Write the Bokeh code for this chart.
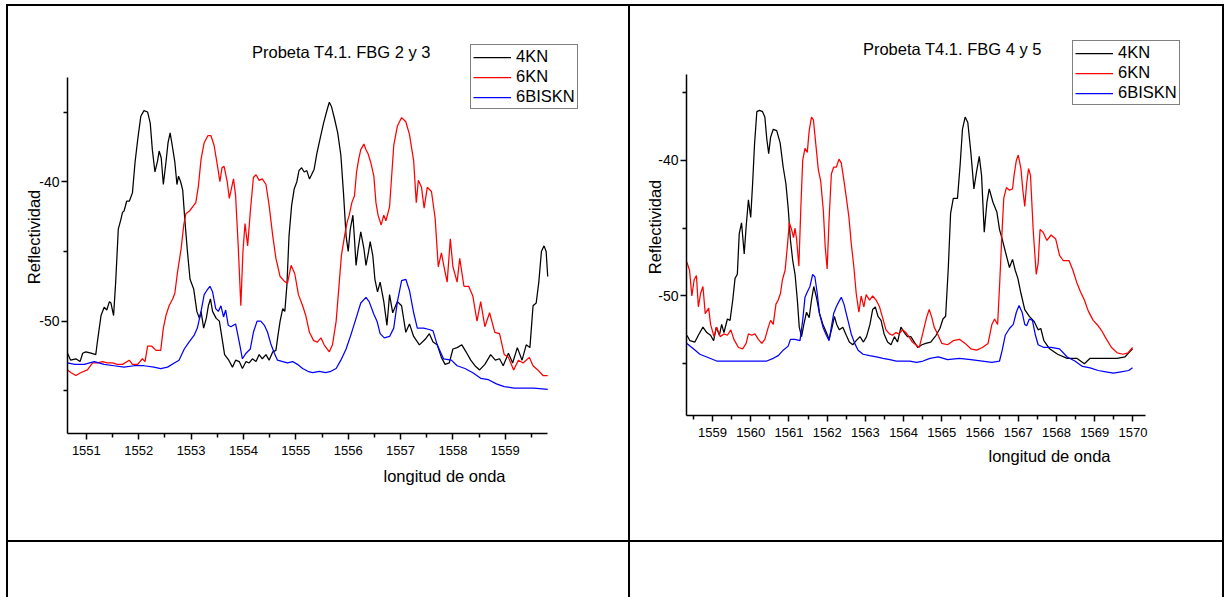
from bokeh.plotting import figure
from bokeh.models import (Range1d, FixedTicker, Legend, LegendItem, Title, Div, Label,
                          PrintfTickFormatter)
from bokeh.layouts import row, column
from bokeh.embed import file_html
from bokeh.resources import INLINE

FONT = "Liberation Sans"

# ---------------- data: chart 1 (FBG 2 y 3) ----------------
c1_title = "Probeta T4.1. FBG 2 y 3"
c1_4kn_x = [1550.64, 1550.70, 1550.80, 1550.88, 1550.93, 1550.99, 1551.09, 1551.18, 1551.21, 1551.28,
            1551.34, 1551.39, 1551.44, 1551.47, 1551.52, 1551.56, 1551.61, 1551.66, 1551.69, 1551.72,
            1551.77, 1551.82, 1551.88, 1551.93, 1551.98, 1552.04, 1552.10, 1552.17, 1552.22, 1552.26,
            1552.31, 1552.36, 1552.39, 1552.43, 1552.47, 1552.52, 1552.56, 1552.60, 1552.64, 1552.69,
            1552.73, 1552.76, 1552.80, 1552.84, 1552.88, 1552.93, 1552.98, 1553.05, 1553.11, 1553.16,
            1553.19, 1553.24, 1553.29, 1553.33, 1553.37, 1553.41, 1553.48, 1553.54, 1553.59, 1553.64,
            1553.72, 1553.79, 1553.85, 1553.92, 1553.98, 1554.05, 1554.11, 1554.17, 1554.24, 1554.30,
            1554.36, 1554.43, 1554.49, 1554.56, 1554.62, 1554.66, 1554.70, 1554.75, 1554.79, 1554.83,
            1554.87, 1554.92, 1554.97, 1555.02, 1555.06, 1555.11, 1555.16, 1555.21, 1555.26, 1555.30,
            1555.35, 1555.40, 1555.47, 1555.53, 1555.60, 1555.64, 1555.68, 1555.74, 1555.80, 1555.86,
            1555.91, 1555.96, 1556.00, 1556.04, 1556.09, 1556.12, 1556.15, 1556.19, 1556.24, 1556.30,
            1556.34, 1556.39, 1556.42, 1556.47, 1556.51, 1556.56, 1556.61, 1556.68, 1556.74, 1556.79,
            1556.85, 1556.94, 1557.02, 1557.10, 1557.17, 1557.25, 1557.36, 1557.47, 1557.55, 1557.62,
            1557.70, 1557.78, 1557.85, 1557.93, 1558.00, 1558.08, 1558.17, 1558.25, 1558.34, 1558.42,
            1558.51, 1558.61, 1558.72, 1558.81, 1558.89, 1558.96, 1559.06, 1559.14, 1559.23, 1559.32,
            1559.40, 1559.47, 1559.53, 1559.59, 1559.64, 1559.69, 1559.74, 1559.78, 1559.81]
c1_4kn_y = [-52.3, -52.8, -52.7, -52.9, -52.3, -52.2, -52.3, -52.4, -51.5, -49.6,
            -49.0, -49.2, -48.6, -48.7, -49.6, -47.2, -43.4, -42.7, -42.2, -42.1,
            -41.4, -41.4, -40.8, -38.6, -37.0, -35.3, -34.9, -35.0, -35.8, -37.7,
            -39.3, -38.5, -37.8, -38.3, -40.2, -38.6, -37.2, -36.5, -37.4, -38.6,
            -40.2, -39.6, -40.0, -40.6, -42.7, -45.0, -47.0, -47.7, -49.3, -49.8,
            -49.3, -50.5, -49.8, -48.9, -48.4, -49.3, -49.8, -50.0, -51.2, -52.4,
            -52.8, -53.3, -52.8, -52.9, -53.4, -52.9, -53.0, -52.7, -52.9, -52.4,
            -52.7, -52.4, -52.8, -52.2, -52.1, -51.0, -50.0, -49.1, -49.3, -47.4,
            -43.9, -41.7, -40.5, -40.0, -39.2, -39.0, -39.3, -39.2, -39.8, -39.5,
            -39.1, -38.0, -36.8, -35.8, -34.8, -34.3, -34.6, -35.5, -36.5, -38.1,
            -40.8, -43.9, -45.0, -43.4, -42.4, -44.1, -46.0, -44.8, -43.6, -44.8,
            -46.0, -45.0, -44.3, -45.3, -47.0, -47.9, -47.2, -48.6, -50.3, -48.1,
            -49.4, -48.6, -48.9, -50.8, -50.2, -51.1, -51.7, -51.3, -50.9, -51.5,
            -51.7, -52.6, -53.1, -53.0, -52.0, -51.9, -51.7, -52.2, -52.8, -53.2,
            -53.5, -53.1, -52.4, -52.8, -52.7, -53.2, -52.3, -53.0, -51.9, -52.8,
            -51.7, -51.9, -48.9, -48.7, -47.2, -45.0, -44.6, -45.0, -46.8]

c1_6kn_x = [1550.64, 1550.71, 1550.80, 1550.89, 1551.02, 1551.12, 1551.21, 1551.31, 1551.40, 1551.50,
            1551.59, 1551.69, 1551.82, 1551.88, 1551.98, 1552.07, 1552.12, 1552.17, 1552.25, 1552.33,
            1552.42, 1552.47, 1552.52, 1552.58, 1552.65, 1552.69, 1552.74, 1552.81, 1552.86, 1552.90,
            1552.97, 1553.05, 1553.09, 1553.14, 1553.19, 1553.25, 1553.32, 1553.38, 1553.44, 1553.51,
            1553.55, 1553.59, 1553.63, 1553.69, 1553.73, 1553.81, 1553.85, 1553.90, 1553.95, 1553.99,
            1554.03, 1554.08, 1554.13, 1554.19, 1554.24, 1554.30, 1554.36, 1554.43, 1554.49, 1554.56,
            1554.62, 1554.70, 1554.77, 1554.84, 1554.91, 1554.98, 1555.05, 1555.13, 1555.19, 1555.26,
            1555.34, 1555.41, 1555.48, 1555.54, 1555.64, 1555.70, 1555.77, 1555.83, 1555.87, 1555.93,
            1555.98, 1556.02, 1556.07, 1556.12, 1556.16, 1556.20, 1556.24, 1556.30, 1556.34, 1556.38,
            1556.43, 1556.49, 1556.53, 1556.57, 1556.63, 1556.68, 1556.72, 1556.79, 1556.87, 1556.94,
            1557.02, 1557.10, 1557.17, 1557.25, 1557.30, 1557.34, 1557.40, 1557.45, 1557.51, 1557.59,
            1557.66, 1557.72, 1557.78, 1557.83, 1557.89, 1557.95, 1558.00, 1558.08, 1558.13, 1558.21,
            1558.30, 1558.38, 1558.46, 1558.53, 1558.61, 1558.70, 1558.80, 1558.89, 1558.98, 1559.06,
            1559.16, 1559.25, 1559.34, 1559.46, 1559.53, 1559.62, 1559.72, 1559.81]
c1_6kn_y = [-53.5, -53.7, -53.9, -53.7, -53.5, -53.0, -53.0, -52.9, -53.0, -53.0,
            -53.1, -53.1, -52.8, -53.1, -53.1, -52.7, -52.9, -51.8, -51.8, -52.1,
            -52.1, -50.5, -49.6, -48.9, -48.4, -48.0, -46.5, -44.8, -43.1, -42.3,
            -42.1, -41.7, -41.5, -40.3, -38.4, -37.2, -36.7, -36.7, -37.4, -39.0,
            -40.0, -39.0, -38.9, -40.0, -41.2, -39.8, -41.0, -44.6, -48.9, -45.0,
            -43.0, -44.6, -42.2, -39.7, -39.5, -39.9, -39.8, -40.2, -41.7, -43.9,
            -45.5, -46.8, -47.1, -47.3, -46.0, -46.6, -48.1, -48.9, -49.6, -50.8,
            -51.4, -51.5, -51.2, -51.7, -52.2, -51.7, -50.0, -47.2, -45.3, -43.9,
            -42.9, -42.4, -41.5, -41.0, -39.3, -38.4, -37.7, -37.3, -37.7, -38.0,
            -38.6, -39.6, -41.5, -42.4, -43.1, -42.4, -42.8, -41.8, -37.4, -36.0,
            -35.4, -35.7, -36.6, -38.5, -41.5, -39.9, -40.4, -41.9, -40.4, -40.7,
            -42.6, -46.1, -45.1, -46.1, -47.2, -44.1, -46.1, -47.2, -45.5, -47.5,
            -47.5, -48.2, -50.0, -48.6, -50.4, -49.4, -50.8, -50.9, -52.4, -52.6,
            -53.5, -52.8, -53.0, -52.6, -53.2, -53.5, -53.9, -53.9]

c1_6bis_x = [1550.64, 1550.78, 1550.96, 1551.15, 1551.34, 1551.53, 1551.72, 1551.91, 1552.10, 1552.29,
             1552.42, 1552.55, 1552.68, 1552.77, 1552.87, 1552.96, 1553.06, 1553.12, 1553.19, 1553.25,
             1553.30, 1553.36, 1553.41, 1553.47, 1553.52, 1553.57, 1553.62, 1553.66, 1553.71, 1553.76,
             1553.85, 1553.92, 1553.98, 1554.05, 1554.13, 1554.19, 1554.26, 1554.33, 1554.40, 1554.46,
             1554.52, 1554.59, 1554.65, 1554.75, 1554.84, 1554.94, 1555.03, 1555.13, 1555.23, 1555.32,
             1555.45, 1555.57, 1555.67, 1555.77, 1555.86, 1555.96, 1556.05, 1556.15, 1556.24, 1556.34,
             1556.40, 1556.49, 1556.55, 1556.61, 1556.69, 1556.79, 1556.87, 1556.94, 1557.02, 1557.10,
             1557.17, 1557.25, 1557.32, 1557.44, 1557.55, 1557.62, 1557.70, 1557.82, 1557.97, 1558.08,
             1558.23, 1558.38, 1558.53, 1558.68, 1558.83, 1558.98, 1559.17, 1559.36, 1559.55, 1559.81]
c1_6bis_y = [-53.0, -53.1, -53.1, -52.9, -53.1, -53.2, -53.3, -53.2, -53.2, -53.3,
             -53.4, -53.3, -53.0, -52.8, -52.0, -51.5, -51.0, -50.5, -49.3, -48.1,
             -47.8, -47.5, -47.9, -49.1, -49.3, -48.9, -49.7, -49.2, -50.3, -50.4,
             -50.2, -51.5, -52.7, -52.3, -52.0, -50.8, -50.0, -50.0, -50.3, -50.8,
             -51.6, -52.3, -52.8, -52.9, -53.0, -52.9, -53.1, -53.4, -53.6, -53.7,
             -53.6, -53.7, -53.6, -53.4, -52.8, -52.0, -51.0, -49.8, -48.7, -48.3,
             -48.6, -49.5, -50.0, -50.9, -51.2, -51.1, -50.5, -48.6, -47.1, -47.0,
             -47.8, -49.4, -50.5, -50.5, -50.6, -50.7, -51.7, -52.7, -52.8, -53.2,
             -53.4, -53.7, -54.1, -54.2, -54.5, -54.7, -54.8, -54.8, -54.8, -54.9]

# ---------------- data: chart 2 (FBG 4 y 5) ----------------
c2_title = "Probeta T4.1. FBG 4 y 5"
c2_4kn_x = [1558.33, 1558.41, 1558.54, 1558.63, 1558.75, 1558.85, 1558.95, 1559.03, 1559.10, 1559.18,
            1559.24, 1559.30, 1559.39, 1559.46, 1559.53, 1559.59, 1559.65, 1559.70, 1559.76, 1559.83,
            1559.88, 1559.94, 1560.00, 1560.05, 1560.10, 1560.16, 1560.23, 1560.31, 1560.37, 1560.42,
            1560.47, 1560.52, 1560.59, 1560.68, 1560.77, 1560.85, 1560.92, 1560.98, 1561.04, 1561.10,
            1561.16, 1561.22, 1561.27, 1561.33, 1561.39, 1561.46, 1561.53, 1561.59, 1561.65, 1561.72,
            1561.80, 1561.89, 1561.98, 1562.05, 1562.13, 1562.19, 1562.25, 1562.32, 1562.41, 1562.50,
            1562.58, 1562.67, 1562.76, 1562.86, 1562.95, 1563.03, 1563.12, 1563.19, 1563.26, 1563.33,
            1563.41, 1563.49, 1563.58, 1563.67, 1563.76, 1563.84, 1563.93, 1564.02, 1564.10, 1564.19,
            1564.28, 1564.37, 1564.48, 1564.58, 1564.71, 1564.85, 1564.95, 1565.03, 1565.10, 1565.17,
            1565.23, 1565.30, 1565.41, 1565.48, 1565.54, 1565.61, 1565.68, 1565.76, 1565.84, 1565.91,
            1565.98, 1566.04, 1566.11, 1566.18, 1566.24, 1566.34, 1566.44, 1566.51, 1566.58, 1566.66,
            1566.77, 1566.85, 1566.92, 1566.99, 1567.07, 1567.17, 1567.29, 1567.42, 1567.52, 1567.59,
            1567.67, 1567.82, 1568.03, 1568.28, 1568.53, 1568.73, 1568.88, 1569.09, 1569.34, 1569.59,
            1569.79, 1569.89, 1569.99]
c2_4kn_y = [-52.9, -53.3, -53.4, -52.9, -52.3, -52.7, -52.9, -53.3, -52.3, -52.9,
            -52.1, -52.7, -51.7, -51.8, -50.3, -48.7, -48.4, -45.4, -44.6, -46.9,
            -44.9, -42.9, -44.2, -41.7, -38.8, -36.4, -36.3, -36.4, -36.8, -38.4,
            -39.5, -38.3, -37.7, -37.8, -38.7, -40.5, -41.7, -43.5, -45.9, -47.4,
            -48.4, -50.3, -52.3, -53.0, -52.1, -51.2, -51.6, -50.3, -49.3, -50.1,
            -51.3, -52.1, -52.7, -53.2, -52.3, -51.5, -52.1, -52.5, -52.3, -52.9,
            -53.4, -53.6, -53.3, -53.0, -53.4, -53.0, -52.1, -51.0, -50.8, -51.5,
            -51.8, -52.8, -53.4, -53.6, -53.0, -53.4, -52.3, -52.7, -53.0, -53.0,
            -53.4, -53.8, -53.6, -53.5, -53.4, -52.9, -52.4, -51.7, -51.5, -47.9,
            -43.9, -42.8, -42.8, -40.3, -37.7, -36.8, -37.2, -39.4, -42.1, -40.8,
            -39.7, -41.1, -45.3, -43.1, -42.1, -43.1, -43.8, -45.1, -45.8, -46.7,
            -47.9, -47.3, -48.1, -48.7, -49.8, -51.0, -51.5, -51.9, -52.5, -52.4,
            -53.3, -53.9, -54.3, -54.6, -54.6, -55.0, -54.6, -54.6, -54.6, -54.6,
            -54.5, -54.2, -53.9]

c2_6kn_x = [1558.33, 1558.40, 1558.46, 1558.52, 1558.58, 1558.63, 1558.69, 1558.75, 1558.81, 1558.90,
            1558.95, 1559.04, 1559.11, 1559.20, 1559.30, 1559.39, 1559.48, 1559.56, 1559.68, 1559.79,
            1559.88, 1559.94, 1560.03, 1560.11, 1560.20, 1560.29, 1560.37, 1560.46, 1560.52, 1560.59,
            1560.66, 1560.72, 1560.78, 1560.83, 1560.90, 1560.96, 1561.01, 1561.07, 1561.12, 1561.16,
            1561.20, 1561.26, 1561.31, 1561.36, 1561.42, 1561.48, 1561.53, 1561.59, 1561.64, 1561.71,
            1561.77, 1561.83, 1561.90, 1561.95, 1562.00, 1562.05, 1562.11, 1562.17, 1562.24, 1562.31,
            1562.37, 1562.44, 1562.50, 1562.57, 1562.63, 1562.70, 1562.76, 1562.83, 1562.89, 1562.96,
            1563.02, 1563.11, 1563.19, 1563.28, 1563.37, 1563.45, 1563.54, 1563.63, 1563.71, 1563.80,
            1563.88, 1563.97, 1564.06, 1564.14, 1564.23, 1564.32, 1564.41, 1564.48, 1564.54, 1564.60,
            1564.67, 1564.74, 1564.80, 1564.89, 1565.00, 1565.15, 1565.30, 1565.46, 1565.61, 1565.76,
            1565.91, 1566.06, 1566.21, 1566.31, 1566.38, 1566.46, 1566.51, 1566.57, 1566.62, 1566.69,
            1566.77, 1566.85, 1566.89, 1566.95, 1567.00, 1567.07, 1567.12, 1567.17, 1567.22, 1567.27,
            1567.32, 1567.39, 1567.47, 1567.52, 1567.57, 1567.65, 1567.75, 1567.86, 1567.98, 1568.08,
            1568.18, 1568.33, 1568.43, 1568.53, 1568.63, 1568.73, 1568.83, 1568.96, 1569.09, 1569.19,
            1569.31, 1569.44, 1569.59, 1569.74, 1569.87, 1569.99]
c2_6kn_y = [-47.5, -48.1, -50.0, -48.8, -48.5, -50.8, -49.8, -49.3, -51.3, -50.9,
            -52.1, -53.0, -52.3, -53.0, -52.8, -52.9, -52.5, -53.2, -53.8, -53.9,
            -53.5, -52.8, -52.9, -52.8, -53.2, -53.5, -53.2, -52.3, -51.8, -52.1,
            -50.6, -50.3, -49.8, -48.8, -48.1, -46.3, -44.6, -45.1, -45.7, -45.0,
            -45.8, -47.8, -43.6, -40.0, -39.1, -39.4, -37.8, -36.8, -37.0, -39.0,
            -40.7, -41.5, -43.7, -46.4, -48.0, -44.4, -41.0, -40.5, -40.5, -39.9,
            -40.2, -41.5, -42.7, -44.2, -46.1, -47.9, -49.8, -51.2, -50.0, -50.8,
            -49.9, -50.3, -50.0, -50.3, -50.8, -51.6, -52.5, -52.8, -52.9, -52.7,
            -52.8, -52.5, -52.7, -53.0, -53.4, -53.6, -53.8, -53.0, -52.3, -51.6,
            -51.0, -51.6, -52.3, -52.8, -53.5, -53.6, -53.3, -53.2, -53.5, -53.9,
            -54.0, -53.8, -53.5, -52.1, -51.7, -52.1, -49.3, -45.6, -42.8, -42.0,
            -42.2, -42.1, -41.1, -40.0, -39.6, -40.6, -42.2, -43.4, -41.7, -40.6,
            -41.1, -45.1, -48.4, -47.6, -45.1, -45.3, -45.9, -45.5, -45.8, -47.0,
            -47.4, -47.4, -48.1, -49.0, -49.7, -50.3, -51.1, -51.8, -52.2, -52.6,
            -53.2, -53.8, -54.2, -54.3, -54.2, -53.8]

c2_6bis_x = [1558.33, 1558.50, 1558.67, 1558.85, 1559.11, 1559.37, 1559.64, 1559.90, 1560.16, 1560.42,
             1560.59, 1560.72, 1560.85, 1560.98, 1561.04, 1561.16, 1561.29, 1561.36, 1561.42, 1561.48,
             1561.55, 1561.62, 1561.68, 1561.74, 1561.80, 1561.89, 1561.98, 1562.05, 1562.11, 1562.17,
             1562.24, 1562.31, 1562.37, 1562.44, 1562.50, 1562.57, 1562.63, 1562.72, 1562.81, 1562.94,
             1563.11, 1563.29, 1563.46, 1563.64, 1563.81, 1563.99, 1564.16, 1564.34, 1564.51, 1564.69,
             1564.91, 1565.15, 1565.46, 1565.76, 1566.06, 1566.31, 1566.51, 1566.58, 1566.66, 1566.77,
             1566.87, 1566.95, 1567.02, 1567.10, 1567.17, 1567.22, 1567.29, 1567.37, 1567.45, 1567.52,
             1567.67, 1567.86, 1568.08, 1568.28, 1568.48, 1568.68, 1568.88, 1569.09, 1569.29, 1569.49,
             1569.69, 1569.89, 1569.99]
c2_6bis_y = [-53.5, -53.9, -54.3, -54.5, -54.8, -54.8, -54.8, -54.8, -54.8, -54.8,
             -54.6, -54.4, -54.0, -53.7, -53.2, -53.2, -53.3, -51.8, -50.1, -49.7,
             -49.3, -48.4, -48.6, -49.8, -51.3, -52.3, -52.9, -53.3, -52.3, -51.3,
             -50.8, -50.4, -50.1, -50.6, -51.3, -52.1, -52.8, -53.5, -54.0, -54.3,
             -54.4, -54.5, -54.6, -54.7, -54.8, -54.8, -54.8, -54.9, -54.8, -54.6,
             -54.5, -54.7, -54.6, -54.7, -54.8, -54.9, -54.8, -54.0, -52.9, -52.4,
             -52.1, -51.2, -50.7, -51.2, -52.1, -52.2, -51.7, -51.8, -52.9, -53.6,
             -53.8, -53.8, -53.9, -54.5, -54.8, -55.2, -55.3, -55.5, -55.6, -55.7,
             -55.6, -55.5, -55.3]

series_names = ["4KN", "6KN", "6BISKN"]
series_colors = ["#000000", "#ff0000", "#0000ff"]
x_label = "longitud de onda"
y_label = "Reflectividad"
y_major = [-40, -50]
y_minor = [-35, -45, -55]


def make_chart(title, xs, ys, xr, yr, xbounds, ybounds, xmaj, borders, leg_loc, title_pos,
               xlab_off, xlab_standoff, ylab_standoff, width):
    bl, br, bt, bb = borders
    p = figure(width=width, height=534, x_range=Range1d(*xr), y_range=Range1d(*yr),
               output_backend="svg", toolbar_location=None, title=None,
               min_border_left=bl, min_border_right=br, min_border_top=bt, min_border_bottom=bb)
    p.frame_align = False
    p.outline_line_color = None
    p.xgrid.visible = False
    p.ygrid.visible = False
    p.background_fill_color = "white"
    p.border_fill_color = "white"

    rends = []
    for x, y, c in zip(xs, ys, series_colors):
        rends.append(p.line(x, y, line_color=c, line_width=1.25))

    xminor = [xmaj[0] - 0.5] + [t + 0.5 for t in xmaj if t + 0.5 < xbounds[1]]
    p.xaxis.ticker = FixedTicker(ticks=xmaj, minor_ticks=xminor)
    p.yaxis.ticker = FixedTicker(ticks=y_major, minor_ticks=y_minor)
    p.yaxis.formatter = PrintfTickFormatter(format="%d")
    p.xaxis.bounds = xbounds
    p.yaxis.bounds = ybounds
    for ax in (p.xaxis[0], p.yaxis[0]):
        ax.axis_line_width = 1.5
        ax.major_tick_line_width = 1.5
        ax.minor_tick_line_width = 1.5
        ax.major_tick_out = 6
        ax.major_tick_in = 0
        ax.minor_tick_out = 4
        ax.minor_tick_in = 0
        ax.major_label_text_font = FONT
        ax.major_label_text_color = "black"
        ax.axis_line_color = "black"
        ax.major_tick_line_color = "black"
        ax.minor_tick_line_color = "black"
    p.xaxis.major_label_text_font_size = "13px"
    p.yaxis.major_label_text_font_size = "14px"
    p.xaxis.major_label_standoff = 6
    p.yaxis.major_label_standoff = 2
    p.yaxis.axis_label = y_label
    p.yaxis.axis_label_text_font = FONT
    p.yaxis.axis_label_text_font_size = "16.5px"
    p.yaxis.axis_label_text_font_style = "normal"
    p.yaxis.axis_label_text_color = "black"
    p.yaxis.axis_label_standoff = ylab_standoff

    t = Label(x=title_pos[0], y=title_pos[1], x_units="screen", y_units="screen",
              text=title, text_font=FONT, text_font_size="16.5px", text_color="black",
              text_align="left", text_baseline="middle")
    p.add_layout(t)
    xl = Title(text=x_label, align="left", offset=xlab_off, text_font=FONT,
               text_font_size="16.5px", text_font_style="normal", text_color="black",
               standoff=xlab_standoff)
    p.add_layout(xl, "below")

    items = [LegendItem(label=n, renderers=[r]) for n, r in zip(series_names, rends)]
    leg = Legend(items=items, location=leg_loc, border_line_color="black",
                 border_line_width=1, background_fill_color="white", background_fill_alpha=1,
                 label_text_font=FONT, label_text_font_size="16.5px", label_text_color="black",
                 glyph_width=38, glyph_height=18, label_height=18, label_standoff=5,
                 spacing=1, padding=2, margin=0)
    p.add_layout(leg)
    return p


f1 = make_chart(c1_title, [c1_4kn_x, c1_6kn_x, c1_6bis_x], [c1_4kn_y, c1_6kn_y, c1_6bis_y],
                (1550.64, 1560.818), (-58.06, -29.87), (1550.64, 1559.81), (-58.06, -32.49),
                list(range(1551, 1560)),
                (59, 28, 34, 107), (403, 324), (184.5, 381.6), 316, 14, -7, 620)
f2 = make_chart(c2_title, [c2_4kn_x, c2_6kn_x, c2_6bis_x], [c2_4kn_y, c2_6kn_y, c2_6bis_y],
                (1558.32, 1571.768), (-58.82, -31.0), (1558.32, 1570.34), (-58.82, -33.62),
                list(range(1559, 1571)),
                (56, 22, 32, 125), (386, 310), (176.4, 366.3), 302, 10, -9, 592)


def blk(w, h, color="black"):
    return Div(width=w, height=h, margin=0, styles={"background-color": color})


layout = column(
    blk(1224, 4, "white"),
    row(blk(6, 2, "white"), blk(1218, 2), spacing=0),
    row(blk(6, 534, "white"), blk(2, 534), f1, blk(2, 534), f2, blk(2, 534), spacing=0),
    row(blk(6, 2, "white"), blk(1218, 2), spacing=0),
    row(blk(6, 55, "white"), blk(2, 55), blk(620, 55, "white"), blk(2, 55),
        blk(592, 55, "white"), blk(2, 55), spacing=0),
    spacing=0,
)

open("out.html", "w").write(file_html(layout, INLINE))
